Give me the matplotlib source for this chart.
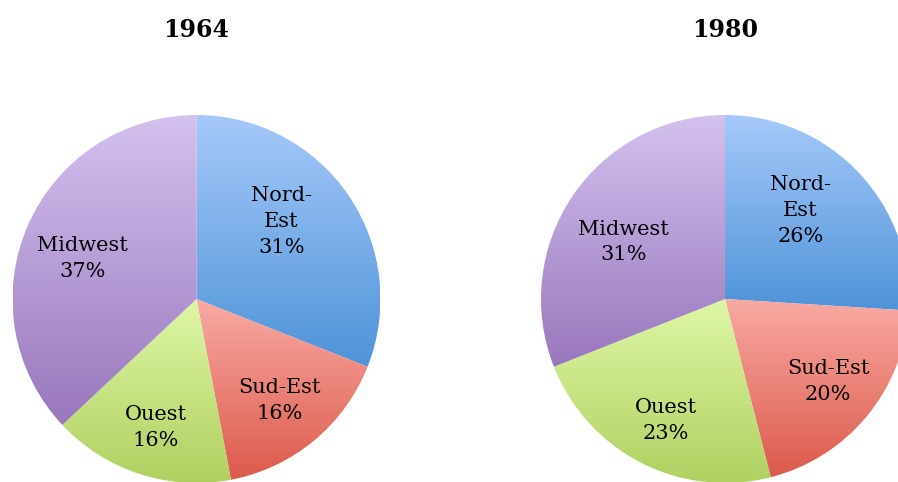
import matplotlib.pyplot as plt
import numpy as np
from matplotlib.colors import LinearSegmentedColormap

regions = ['Nord-\nEst', 'Sud-Est', 'Ouest', 'Midwest']
years = ['1964', '1980']
shares_1964 = [31, 16, 16, 37]
shares_1980 = [26, 20, 23, 31]

# gradient (top, bottom) per region, like the Excel fill
grad_colors = [('#A6C9FA', '#4E93D8'),
               ('#F9AAA4', '#DC5A4B'),
               ('#DEF7A6', '#AFCF5F'),
               ('#D4C1EF', '#9877BC')]

W, H = 898, 482
R = 184
centers = [(196.5, 299), (725, 299)]
# label placement (radius units), Excel "best fit" style
label_xy = [
    [(0.46, 0.42), (0.45, -0.55), (-0.22, -0.70), (-0.62, 0.22)],
    [(0.41, 0.48), (0.56, -0.45), (-0.32, -0.66), (-0.55, 0.31)],
]

plt.rcParams['font.family'] = ['DejaVu Serif']
fig = plt.figure(figsize=(W / 100, H / 100), dpi=100)

for k, (shares, year) in enumerate(zip([shares_1964, shares_1980], years)):
    cx, cy = centers[k]
    ax = fig.add_axes([(cx - R) / W, (H - cy - R) / H, 2 * R / W, 2 * R / H])
    wedges, _ = ax.pie(shares, startangle=90, counterclock=False, radius=1,
                       colors=['none'] * 4, wedgeprops=dict(linewidth=0))
    for w, (c_top, c_bot) in zip(wedges, grad_colors):
        verts = w.get_path().vertices
        y0, y1 = verts[:, 1].min(), verts[:, 1].max()
        cmap = LinearSegmentedColormap.from_list('g', [c_bot, c_top])
        grad = np.linspace(0, 1, 256).reshape(-1, 1)
        im = ax.imshow(grad, cmap=cmap, origin='lower', aspect='auto',
                       extent=[-1, 1, y0, y1], interpolation='bilinear')
        im.set_clip_path(w)
    for (lx, ly), name, v in zip(label_xy[k], regions, shares):
        ax.text(lx, ly, f'{name}\n{v}%', ha='center', va='center',
                fontsize=15, linespacing=1.45, color='black')
    ax.set_xlim(-1, 1)
    ax.set_ylim(-1, 1)
    ax.set_aspect('equal')
    ax.axis('off')
    fig.text(cx / W, 1 - 30 / H, year, ha='center', va='center',
             fontsize=17, fontweight='bold')

fig.savefig('out.png', dpi=100)
